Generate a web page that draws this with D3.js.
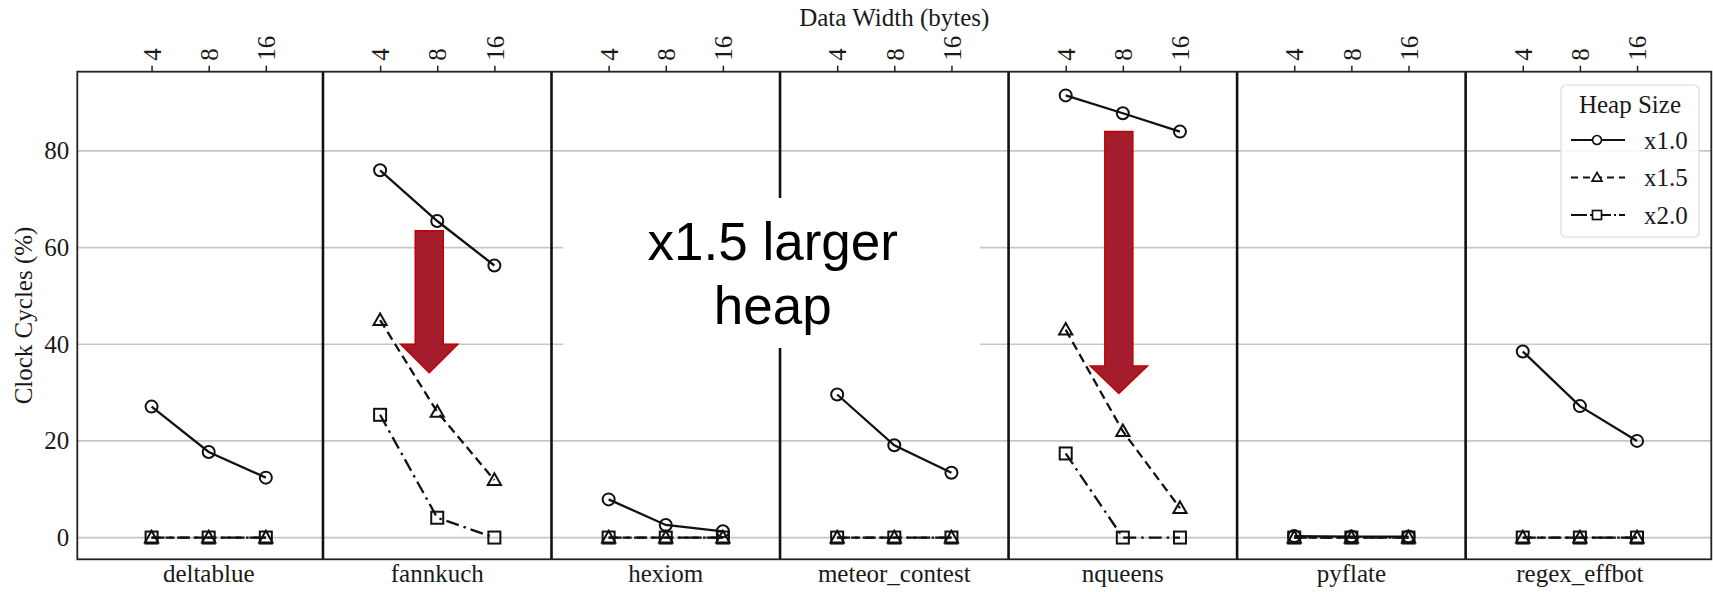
<!DOCTYPE html>
<html>
<head>
<meta charset="utf-8">
<script src="https://cdn.jsdelivr.net/npm/d3@7/dist/d3.min.js"></script>
<style>
  html, body { margin: 0; padding: 0; background: #fff; }
  svg { display: block; }
  text { font-family: "Liberation Serif", "Times New Roman", serif; fill: #1a1a1a; }
</style>
</head>
<body>
<svg id="chart" width="1713" height="592"></svg>
<script>
// Benchmarks along the x axis, each split by data width
const benchmarks = ["deltablue", "fannkuch", "hexiom", "meteor_contest", "nqueens", "pyflate", "regex_effbot"];
const dataWidths = [4, 8, 16];
const heapSizes = ["x1.0", "x1.5", "x2.0"];
const yTicks = [0, 20, 40, 60, 80];

// Clock cycles (%) per benchmark, for data widths 4 / 8 / 16
const heap10 = [
  [27.1, 17.7, 12.4],
  [76.0, 65.5, 56.3],
  [7.9, 2.6, 1.3],
  [29.6, 19.1, 13.4],
  [91.5, 87.8, 84.0],
  [0.3, 0.2, 0.2],
  [38.5, 27.2, 20.0]
];
const heap15 = [
  [0, 0, 0],
  [45.0, 26.0, 11.9],
  [0, 0, 0],
  [0, 0, 0],
  [43.0, 22.0, 6.1],
  [0, 0, 0],
  [0, 0, 0]
];
const heap20 = [
  [0, 0, 0],
  [25.4, 4.1, 0],
  [0, 0, 0],
  [0, 0, 0],
  [17.4, 0, 0],
  [0, 0, 0],
  [0, 0, 0]
];

const seriesValues = [heap10, heap15, heap20];
const seriesDash = [null, "9,5", "13,5,2.5,5"];
const seriesMarker = ["circle", "triangle", "square"];

const svg = d3.select("#chart");
const plotLeft = 77.3, plotRight = 1711.3, plotTop = 71.7, plotBottom = 559.3;
const fontSize = "25px";

// Each benchmark occupies 4 slots: three data widths and a gap
const pos = (g, k) => g * 4 + k;
const x = d3.scaleLinear().domain([-1.3, 27.3]).range([plotLeft, plotRight]);
const y = d3.scaleLinear().domain([-4.5, 96.4]).range([plotBottom, plotTop]);

// Horizontal grid
svg.append("g").selectAll("line").data(yTicks).join("line")
  .attr("x1", plotLeft).attr("x2", plotRight)
  .attr("y1", d => y(d)).attr("y2", d => y(d))
  .attr("stroke", "#c6c6c6").attr("stroke-width", 1.7);

// Separators between benchmarks
svg.append("g").selectAll("line").data(d3.range(benchmarks.length - 1)).join("line")
  .attr("x1", g => x(pos(g, 3))).attr("x2", g => x(pos(g, 3)))
  .attr("y1", plotTop).attr("y2", plotBottom)
  .attr("stroke", "#111").attr("stroke-width", 2.6);

// Marker shapes
function drawMarker(sel, type, size) {
  if (type === "circle") {
    sel.append("circle").attr("r", size / 2);
  } else if (type === "square") {
    sel.append("rect").attr("x", -size / 2).attr("y", -size / 2).attr("width", size).attr("height", size);
  } else {
    const h = size * 0.9;
    sel.append("path").attr("d", `M0,${-h * 0.62} L${size * 0.55},${h * 0.45} L${-size * 0.55},${h * 0.45} Z`);
  }
}

const line = d3.line().x(d => x(d.p)).y(d => y(d.v));

seriesValues.forEach((vals, s) => {
  const g = svg.append("g");
  vals.forEach((row, b) => {
    const pts = row.map((v, k) => ({ p: pos(b, k), v }));
    g.append("path").datum(pts)
      .attr("d", line)
      .attr("fill", "none").attr("stroke", "#111").attr("stroke-width", 2.3)
      .attr("stroke-dasharray", seriesDash[s]);
    pts.forEach(d => {
      const m = g.append("g").attr("transform", `translate(${x(d.p)},${y(d.v)})`)
        .attr("fill", "none").attr("stroke", "#111").attr("stroke-width", 2);
      drawMarker(m, seriesMarker[s], 12);
    });
  });
});

// Annotation box
const ann = svg.append("g");
ann.append("rect")
  .attr("x", 563).attr("y", 198).attr("width", 417).attr("height", 150)
  .attr("fill", "#fff");
ann.append("text").attr("x", 772.7).attr("y", 259.5)
  .attr("text-anchor", "middle")
  .style("font-family", "'Liberation Sans', Arial, sans-serif")
  .style("font-size", "53px").style("fill", "#000")
  .text("x1.5 larger");
ann.append("text").attr("x", 772.7).attr("y", 323.5)
  .attr("text-anchor", "middle")
  .style("font-family", "'Liberation Sans', Arial, sans-serif")
  .style("font-size", "53px").style("fill", "#000")
  .text("heap");

// Red arrows: [benchmark, slot, top value, head base value, tip value]
const arrows = [
  [1, 0.86, 63.5, 40.0, 34.1],
  [4, 0.93, 84.0, 35.5, 29.8]
];
const shaftHalf = 0.245, headHalf = 0.5;
svg.append("g").selectAll("path").data(arrows).join("path")
  .attr("d", a => {
    const c = pos(a[0], a[1]);
    return `M${x(c - shaftHalf)},${y(a[2])} L${x(c + shaftHalf)},${y(a[2])} L${x(c + shaftHalf)},${y(a[3])} ` +
      `L${x(c + headHalf)},${y(a[3])} L${x(c)},${y(a[4])} L${x(c - headHalf)},${y(a[3])} L${x(c - shaftHalf)},${y(a[3])} Z`;
  })
  .attr("fill", "#a51d2d").attr("stroke", "#c00000").attr("stroke-width", 1.5);

// Frame
svg.append("rect")
  .attr("x", plotLeft).attr("y", plotTop).attr("width", plotRight - plotLeft).attr("height", plotBottom - plotTop)
  .attr("fill", "none").attr("stroke", "#222").attr("stroke-width", 1.8);

// Top axis: data width ticks
const topTicks = [];
benchmarks.forEach((b, g) => dataWidths.forEach((w, k) => topTicks.push(pos(g, k))));
const topAxis = svg.append("g").attr("transform", `translate(0,${plotTop})`)
  .call(d3.axisTop(x).tickValues(topTicks).tickFormat(p => dataWidths[p % 4]).tickSize(6).tickPadding(0));
topAxis.select(".domain").remove();
topAxis.selectAll(".tick line").attr("stroke", "#222").attr("stroke-width", 1.5);
topAxis.selectAll(".tick text")
  .attr("transform", "translate(0,-11) rotate(-90)")
  .attr("x", 0).attr("y", 0).attr("dy", "0.35em")
  .attr("text-anchor", "start")
  .style("font-size", fontSize).style("font-family", "'Liberation Serif', serif").attr("fill", "#1a1a1a");

// Left axis
const leftAxis = svg.append("g").attr("transform", `translate(${plotLeft},0)`)
  .call(d3.axisLeft(y).tickValues(yTicks).tickSize(0).tickPadding(8));
leftAxis.select(".domain").remove();
leftAxis.selectAll(".tick text")
  .style("font-size", fontSize).style("font-family", "'Liberation Serif', serif").attr("fill", "#1a1a1a");

// Benchmark names along the bottom
svg.append("g").selectAll("text").data(benchmarks).join("text")
  .attr("x", (b, g) => x(pos(g, 1))).attr("y", 582)
  .attr("text-anchor", "middle").style("font-size", fontSize)
  .text(b => b);

// Axis titles
svg.append("text").attr("x", (plotLeft + plotRight) / 2).attr("y", 26)
  .attr("text-anchor", "middle").style("font-size", fontSize)
  .text("Data Width (bytes)");
svg.append("text")
  .attr("transform", `translate(32,${(plotTop + plotBottom) / 2}) rotate(-90)`)
  .attr("text-anchor", "middle").style("font-size", fontSize)
  .text("Clock Cycles (%)");

// Legend
const lg = svg.append("g").attr("transform", "translate(1561,85)");
lg.append("rect").attr("width", 138).attr("height", 152).attr("rx", 5)
  .attr("fill", "#fff").attr("fill-opacity", 0.85)
  .attr("stroke", "#dcdcdc").attr("stroke-width", 1.2);
lg.append("text").attr("x", 69).attr("y", 28).attr("text-anchor", "middle")
  .style("font-size", fontSize).text("Heap Size");
heapSizes.forEach((h, s) => {
  const cy = 55 + s * 37.5;
  const row = lg.append("g").attr("transform", `translate(0,${cy})`);
  row.append("line").attr("x1", 10).attr("x2", 64).attr("y1", 0).attr("y2", 0)
    .attr("stroke", "#111").attr("stroke-width", 2.2)
    .attr("stroke-dasharray", s === 1 ? "7,5" : (s === 2 ? "16,3,2,3" : null));
  const m = row.append("g").attr("transform", "translate(36,0)")
    .attr("fill", "#fff").attr("stroke", "#111").attr("stroke-width", 1.7);
  drawMarker(m, seriesMarker[s], 9);
  row.append("text").attr("x", 83).attr("y", 0).attr("dy", "0.35em")
    .style("font-size", fontSize).text(h);
});
</script>
</body>
</html>
